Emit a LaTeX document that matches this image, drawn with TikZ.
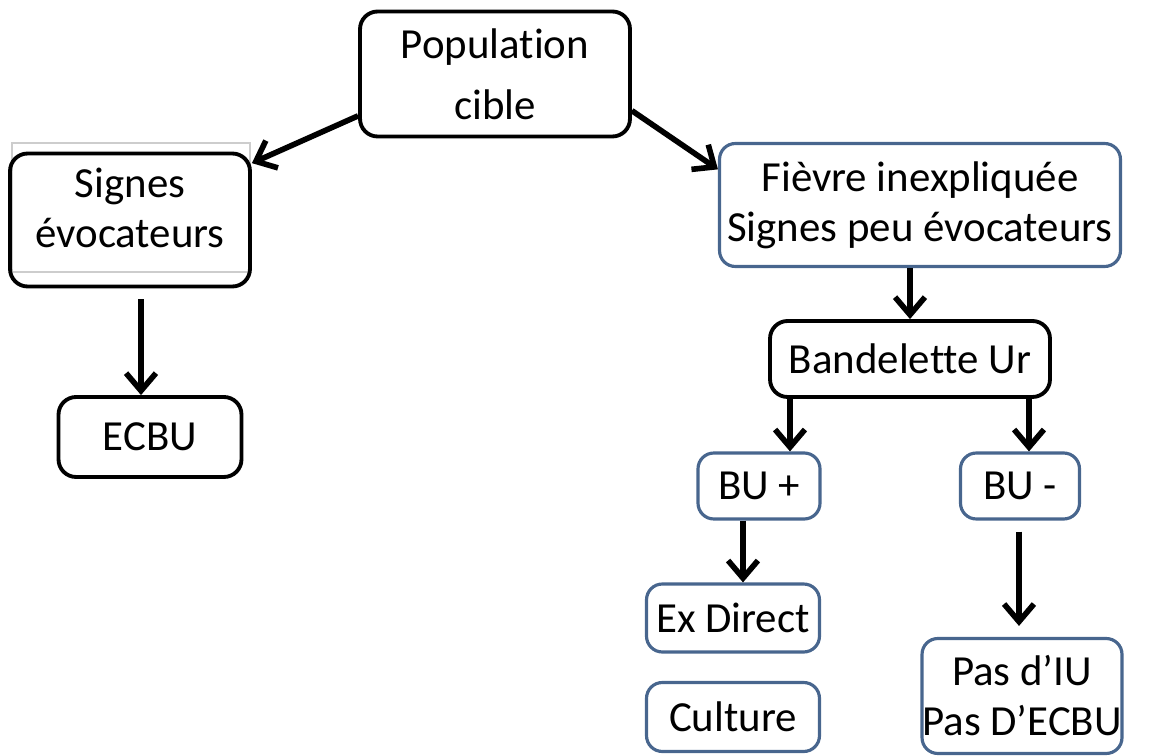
\documentclass[tikz,border=0pt]{standalone}
\usepackage{fontspec}
\setmainfont{Carlito}[Ligatures=CommonOff]
\usepackage{tikz}
\usetikzlibrary{calc,positioning,arrows.meta}
\definecolor{boxblue}{RGB}{72,102,142}
\definecolor{ghostgray}{RGB}{205,205,205}

\begin{document}
\begin{tikzpicture}[
  x=0.02cm, y=-0.02cm,
  box/.style={draw=black, line width=2.2pt, rounded corners=10pt,
    inner sep=0pt, align=center, font=\fontsize{24.4}{28.5}\selectfont},
  bluebox/.style={box, draw=boxblue, line width=1.8pt, rounded corners=9pt},
  arr/.style={-{Straight Barb[length=10pt,width=17pt]}, line width=3.2pt},
]
  \useasboundingbox (0,0) rectangle (1149,756);
  \draw[ghostgray, line width=0.6pt] (12,143) rectangle (250,272);

  \node[box, minimum width=5.4cm, minimum height=2.5cm] (pop) at (495,74)
    {Population\\[6pt]cible};
  \node[box, minimum width=4.8cm, minimum height=2.66cm, text depth=0.5cm] (signes) at (130,220)
    {Signes\\évocateurs};
  \node[box, minimum width=3.66cm, minimum height=1.6cm] (ecbu) at (150,437)
    {ECBU};
  \node[bluebox, minimum width=8.02cm, minimum height=2.46cm] (fievre) at (920,205)
    {Fièvre inexpliquée\\Signes peu évocateurs};
  \node[box, minimum width=5.6cm, minimum height=1.52cm] (band) at (910,359)
    {Bandelette Ur};
  \node[bluebox, minimum width=2.44cm, minimum height=1.32cm] (buplus) at (759,486)
    {BU +};
  \node[bluebox, minimum width=2.38cm, minimum height=1.32cm] (bumoins) at (1020,486)
    {BU -};
  \node[bluebox, minimum width=3.46cm, minimum height=1.36cm] (exdir) at (733,618)
    {Ex Direct};
  \node[bluebox, minimum width=3.46cm, minimum height=1.38cm] (cult) at (733,717)
    {Culture};
  \node[bluebox, minimum width=4cm, minimum height=2.3cm] (pasiu) at (1022,696)
    {Pas d’IU\\Pas D’ECBU};

  \draw[arr] (pop.197) -- (signes.25);
  \draw[arr] (pop.-15) -- (fievre.170);
  \draw[arr] ($(signes.south)+(11,11)$) -- ($(ecbu.north)+(-9,0)$);
  \draw[arr] (fievre.south -| band.north) -- (band.north);
  \draw[arr] ($(band.south -| buplus.north)+(31,0)$) -- ($(buplus.north)+(31,0)$);
  \draw[arr] ($(band.south -| bumoins.north)+(9,0)$) -- ($(bumoins.north)+(9,0)$);
  \draw[arr] ($(buplus.south)+(-16,0)$) -- ($(exdir.north)+(10,0)$);
  \draw[arr] ($(bumoins.south)+(-1,11)$) -- ($(pasiu.north)+(-3,-11)$);
\end{tikzpicture}
\end{document}
